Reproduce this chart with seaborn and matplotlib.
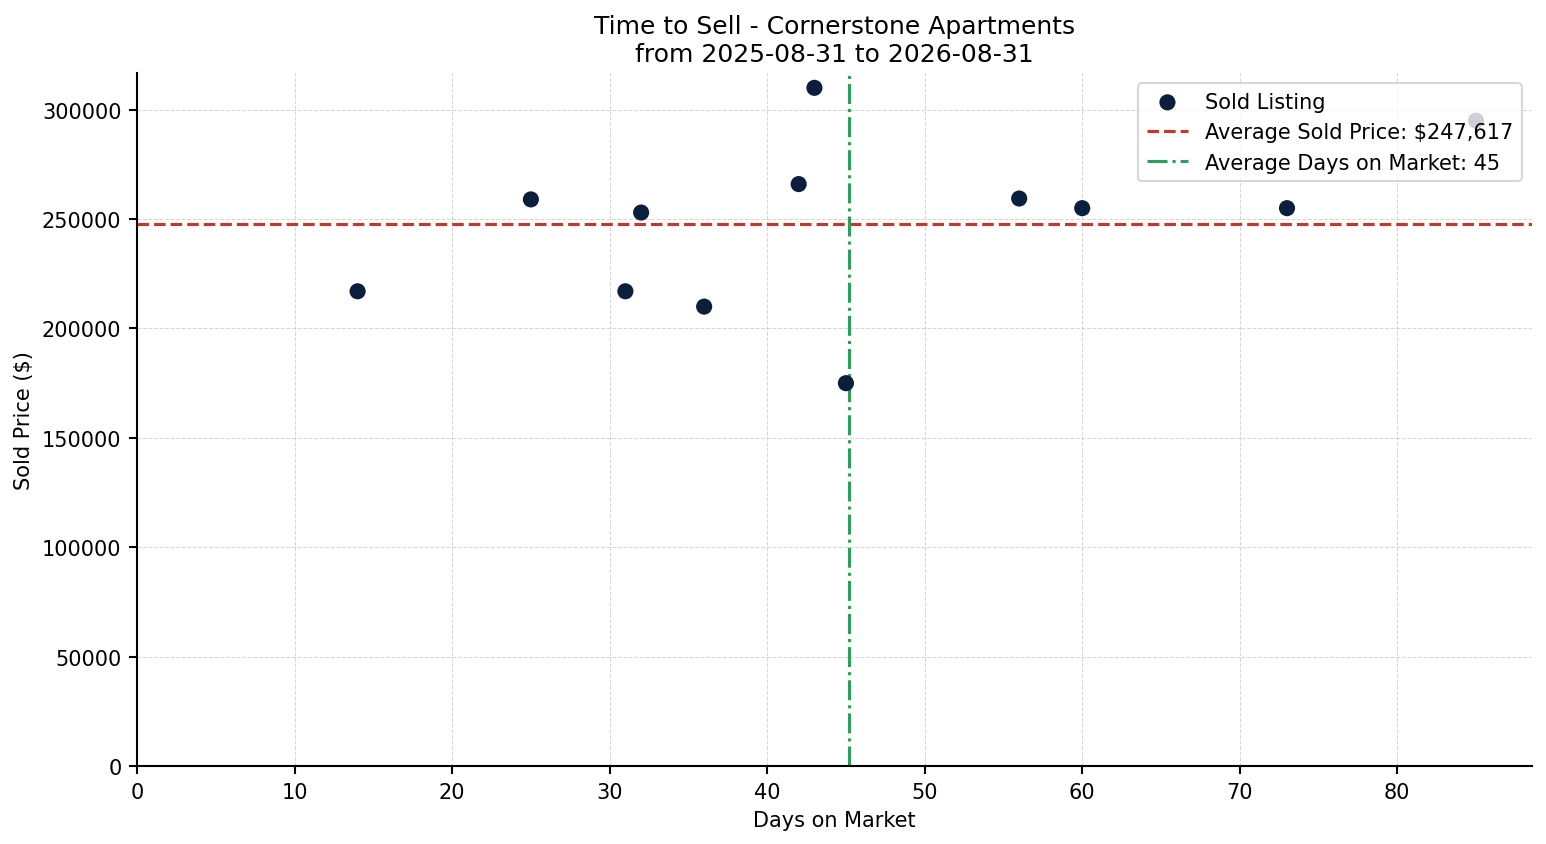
import matplotlib
matplotlib.use("Agg")
import matplotlib.pyplot as plt
import seaborn as sns
import pandas as pd

# sold listings
days_on_market = [14, 25, 31, 32, 36, 42, 43, 45, 56, 60, 73, 85]
sold_price = [217000, 259000, 217000, 253000, 210000, 266000,
              310000, 175000, 259404, 255000, 255000, 295000]

title = "Time to Sell - Cornerstone Apartments\nfrom 2025-08-31 to 2026-08-31"

df = pd.DataFrame({"days": days_on_market, "price": sold_price})
avg_price = df["price"].mean()
avg_days = df["days"].mean()

sns.set_style("white")
plt.rcParams.update({"text.color": "black", "axes.labelcolor": "black",
                     "xtick.color": "black", "ytick.color": "black"})
fig, ax = plt.subplots(figsize=(10.313, 5.633), dpi=150)

sns.scatterplot(data=df, x="days", y="price", ax=ax, s=60, color="#0b1f3d",
                edgecolor="none", label="Sold Listing", zorder=3)
ax.axhline(avg_price, color="#c0392b", linestyle="--", linewidth=1.5,
           label=f"Average Sold Price: ${avg_price:,.0f}")
ax.axvline(avg_days, color="#2ca05a", linestyle="-.", linewidth=1.5,
           label=f"Average Days on Market: {avg_days:.0f}")

ax.set_xlim(left=0)
ax.set_ylim(bottom=0)
ax.set_xlabel("Days on Market")
ax.set_ylabel("Sold Price ($)")
ax.set_title(title)
ax.grid(True, linestyle="--", linewidth=0.5, color="#cccccc", alpha=0.8)
ax.tick_params(axis="both", which="major", length=4, width=1, left=True, bottom=True)
sns.despine(ax=ax)
for sp in ["left", "bottom"]:
    ax.spines[sp].set_color("black")
    ax.spines[sp].set_linewidth(1)

leg = ax.legend(loc="upper right", framealpha=0.8)
leg.set_zorder(5)

plt.tight_layout()
fig.subplots_adjust(left=0.0886, right=0.9903, top=0.9124, bottom=0.0923)
plt.savefig("out.png", dpi=150)
